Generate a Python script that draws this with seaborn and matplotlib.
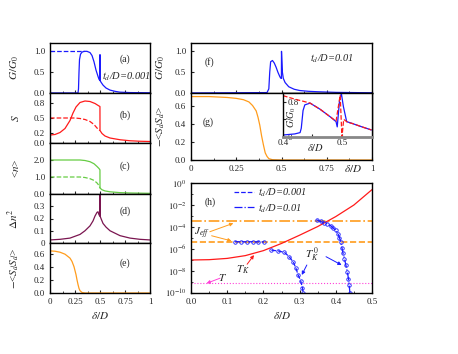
import matplotlib
matplotlib.use("Agg")
import matplotlib.pyplot as plt
import seaborn as sns
from matplotlib.lines import Line2D
from matplotlib.ticker import MultipleLocator, LogLocator, NullFormatter

# ---------------- data ----------------
# (a) conductance, t_d/D = 0.001
a_x = [0, 0.28, 0.285, 0.29, 0.295, 0.305, 0.32, 0.34, 0.37, 0.40, 0.42, 0.44, 0.46, 0.48,
       0.49, 0.4995, 0.5, 0.5005, 0.51, 0.53, 0.56, 0.6, 0.65, 0.7, 0.8, 1.0]
a_y = [0, 0, 0.1, 0.5, 0.8, 0.93, 0.98, 1.0, 1.0, 0.97, 0.9, 0.75, 0.55, 0.4,
       0.33, 0.3, 0.92, 0.3, 0.26, 0.19, 0.12, 0.07, 0.04, 0.02, 0.01, 0.005]
a_dash_x = [0, 0.34]
a_dash_y = [1.0, 1.0]

# (b) entropy S
b_x = [0, 0.05, 0.1, 0.15, 0.2, 0.23, 0.26, 0.3, 0.35, 0.4, 0.45, 0.49, 0.4995,
       0.5, 0.52, 0.55, 0.6, 0.7, 0.8, 0.9, 1.0]
b_y = [0.16, 0.17, 0.21, 0.29, 0.45, 0.6, 0.72, 0.81, 0.84, 0.83, 0.79, 0.74, 0.73,
       0.25, 0.19, 0.14, 0.1, 0.065, 0.045, 0.035, 0.03]
b_dash_x = [0, 0.25, 0.3, 0.35, 0.4, 0.44, 0.47, 0.49, 0.5]
b_dash_y = [0.5, 0.5, 0.49, 0.47, 0.43, 0.37, 0.3, 0.26, 0.25]

# (c) occupation <n>
c_x = [0, 0.3, 0.35, 0.4, 0.44, 0.47, 0.49, 0.4995, 0.5, 0.52, 0.55, 0.6, 0.7, 0.8, 1.0]
c_y = [2.0, 2.0, 1.97, 1.9, 1.78, 1.62, 1.5, 1.42, 0.35, 0.25, 0.18, 0.13, 0.08, 0.06, 0.04]
c_dash_x = [0, 0.3, 0.35, 0.4, 0.44, 0.47, 0.49, 0.5]
c_dash_y = [1.0, 1.0, 0.97, 0.9, 0.8, 0.65, 0.5, 0.35]

# (d) charge fluctuation
d_x = [0, 0.1, 0.2, 0.3, 0.35, 0.4, 0.43, 0.45, 0.47, 0.48, 0.49, 0.4995, 0.5, 0.5005,
       0.51, 0.53, 0.56, 0.6, 0.7, 0.8, 0.9, 1.0]
d_y = [0.025, 0.03, 0.04, 0.07, 0.1, 0.14, 0.18, 0.22, 0.25, 0.255, 0.23, 0.22, 0.5, 0.22,
       0.2, 0.16, 0.13, 0.1, 0.06, 0.04, 0.03, 0.025]

# (e) spin correlation, t_d/D = 0.001
e_x = [0, 0.05, 0.1, 0.15, 0.2, 0.22, 0.24, 0.26, 0.27, 0.28, 0.29, 0.3, 0.32, 0.35, 1.0]
e_y = [0.64, 0.635, 0.62, 0.59, 0.53, 0.48, 0.4, 0.28, 0.2, 0.13, 0.07, 0.035, 0.008, 0.0, 0.0]

# (f) conductance, t_d/D = 0.01
f_x = [0, 0.42, 0.43, 0.435, 0.44, 0.45, 0.46, 0.47, 0.48, 0.49, 0.495, 0.4995, 0.5,
       0.505, 0.51, 0.52, 0.54, 0.57, 0.6, 0.65, 0.7, 0.8, 0.9, 1.0]
f_y = [0, 0.01, 0.1, 0.5, 0.75, 0.78, 0.72, 0.62, 0.5, 0.4, 0.36, 0.35, 1.0,
       0.5, 0.35, 0.25, 0.15, 0.09, 0.06, 0.04, 0.03, 0.015, 0.01, 0.005]

# (g) spin correlation, t_d/D = 0.01
g_x = [0, 0.1, 0.2, 0.25, 0.29, 0.32, 0.34, 0.36, 0.37, 0.38, 0.39, 0.4, 0.41, 0.42,
       0.43, 0.45, 0.5, 1.0]
g_y = [0.71, 0.71, 0.7, 0.69, 0.675, 0.65, 0.61, 0.55, 0.48, 0.39, 0.27, 0.17, 0.08, 0.04,
       0.015, 0.003, 0.0, 0.0]

# (g) inset
in_x = [0.4, 0.42, 0.429, 0.431, 0.434, 0.437, 0.446, 0.463, 0.48, 0.49, 0.492, 0.496,
        0.499, 0.5025, 0.508, 0.517, 0.534, 0.55]
in_y = [0.045, 0.07, 0.1, 0.2, 0.6, 0.73, 0.77, 0.63, 0.46, 0.35, 0.23, 0.84,
        0.99, 0.69, 0.35, 0.31, 0.23, 0.16]
in_red_x = [0.4, 0.42, 0.435, 0.446, 0.463, 0.48, 0.49, 0.497, 0.5, 0.503, 0.51, 0.517,
            0.534, 0.55]
in_red_y = [0.94, 0.86, 0.81, 0.77, 0.63, 0.46, 0.36, 0.95, 0.0, 0.4, 0.33, 0.31,
            0.23, 0.16]

# (h) energy scales
tk_x = [0, 0.05, 0.1, 0.15, 0.2, 0.25, 0.3, 0.35, 0.4, 0.45, 0.5]
tk_y = [1.0e-7, 1.07e-7, 1.4e-7, 2.5e-7, 7.1e-7, 3.2e-6, 1.8e-5, 1.1e-4, 8.9e-4, 1.0e-2, 2.5e-1]

tk0_flat_x = [0.122, 0.138, 0.154, 0.170, 0.186, 0.202]
tk0_flat_y = [4.6e-6, 4.6e-6, 4.5e-6, 4.6e-6, 4.5e-6, 4.4e-6]
tk0_low_x = [0.222, 0.241, 0.258, 0.271, 0.283, 0.29, 0.296, 0.303, 0.308, 0.31]
tk0_low_y = [7.9e-7, 6.6e-7, 5.0e-7, 2.0e-7, 6.2e-8, 1.7e-8, 4.4e-9, 1.3e-9, 2.7e-10, 1.0e-10]

tk0_high_x = [0.347, 0.358, 0.367, 0.376, 0.386, 0.393, 0.40, 0.406, 0.41, 0.414, 0.417,
              0.42, 0.424, 0.428, 0.432, 0.435, 0.437, 0.439]
tk0_high_y = [4.4e-4, 3.2e-4, 2.5e-4, 2.0e-4, 1.3e-4, 7.9e-5, 5.0e-5, 2.5e-5, 1.1e-5, 4.0e-6,
              1.3e-6, 4.0e-7, 1.3e-7, 3.2e-8, 7.9e-9, 2.0e-9, 5.0e-10, 1.0e-10]

J_eff_high = 3.7e-4
J_eff_low = 4.5e-6
T_level = 8.0e-10

BLUE = "#1a1aff"
RED = "#ff1a1a"
GREEN = "#66cc44"
PURPLE = "#7a1550"
ORANGE = "#ff9c1c"
PINK = "#ff40d8"

# ---------------- style ----------------
sns.set_style("ticks")
plt.rcParams["font.family"] = ["Liberation Serif", "DejaVu Serif"]
plt.rcParams["mathtext.fontset"] = "stix"
plt.rcParams["xtick.direction"] = "in"
plt.rcParams["ytick.direction"] = "in"
plt.rcParams["axes.linewidth"] = 1.0
plt.rcParams["xtick.major.size"] = 2.5
plt.rcParams["ytick.major.size"] = 2.5
plt.rcParams["xtick.minor.size"] = 1.5
plt.rcParams["ytick.minor.size"] = 1.5
plt.rcParams["xtick.labelsize"] = 6.5
plt.rcParams["ytick.labelsize"] = 6.5
plt.rcParams["axes.edgecolor"] = "black"

W, H = 458, 354
fig = plt.figure(figsize=(W / 100, H / 100), dpi=100)


def px_axes(x0, y0, x1, y1):
    return fig.add_axes([x0 / W, 1 - y1 / H, (x1 - x0) / W, (y1 - y0) / H])


def draw(ax, x, y, color, ls="-", lw=0.9, **kw):
    sns.lineplot(x=x, y=y, ax=ax, color=color, linestyle=ls, linewidth=lw,
                 estimator=None, sort=False, legend=False, **kw)


LAB = 8
left_panels = [(43, 93), (93, 143), (143, 194), (194, 243), (243, 293)]
axs = [px_axes(50, y0, 150, y1) for (y0, y1) in left_panels]
ax_a, ax_b, ax_c, ax_d, ax_e = axs

draw(ax_a, a_dash_x, a_dash_y, BLUE, "--")
draw(ax_a, a_x, a_y, BLUE)
draw(ax_b, b_dash_x, b_dash_y, RED, "--")
draw(ax_b, b_x, b_y, RED)
draw(ax_c, c_dash_x, c_dash_y, GREEN, "--")
draw(ax_c, c_x, c_y, GREEN)
draw(ax_d, d_x, d_y, PURPLE)
draw(ax_e, e_x, e_y, ORANGE)

ylims = [(0, 1.2), (0, 1.0), (0, 3.0), (0, 0.4), (0, 0.76)]
yticks = [([0, 0.5, 1.0], ["0.0", "0.5", "1.0"]),
          ([0, 0.2, 0.5, 0.8], ["0.0", "0.2", "0.5", "0.8"]),
          ([0, 1, 2], ["0.0", "1.0", "2.0"]),
          ([0, 0.1, 0.2, 0.3], ["0", "0.1", "0.2", "0.3"]),
          ([0, 0.2, 0.4, 0.6], ["0.0", "0.2", "0.4", "0.6"])]
ylabels = ["$G/G_0$", "$S$", "<$n$>", r"$\Delta n^2$", r"$-$<$S_dS_d$>"]
tags = ["(a)", "(b)", "(c)", "(d)", "(e)"]
tag_y = [0.68, 0.56, 0.55, 0.64, 0.6]
for ax, yl, (tv, tl), lab, tag, ty in zip(axs, ylims, yticks, ylabels, tags, tag_y):
    ax.set_xlim(0, 1)
    ax.set_ylim(*yl)
    ax.set_yticks(tv)
    ax.set_yticklabels(tl)
    ax.xaxis.set_major_locator(MultipleLocator(0.25))
    ax.xaxis.set_minor_locator(MultipleLocator(0.125))
    ax.set_ylabel(lab, fontsize=LAB)
    ax.yaxis.set_label_coords(-0.29, 0.5)
    ax.set_xlabel("")
    ax.text(0.75, ty, tag, transform=ax.transAxes, fontsize=7, ha="center", va="center")
    if ax is not ax_e:
        ax.tick_params(axis="x", labelbottom=False)
ax_e.set_xticks([0, 0.25, 0.5, 0.75, 1.0])
ax_e.set_xticklabels(["0", "0.25", "0.5", "0.75", "1"])
ax_e.set_xlabel(r"$\delta/D$", fontsize=LAB, labelpad=3)
ax_a.text(0.52, 0.32, "$t_d$/D=0.001", transform=ax_a.transAxes, fontsize=7.5,
          style="italic", ha="left", va="center")

# ---------------- right column ----------------
ax_f = px_axes(191, 43, 372, 93)
ax_g = px_axes(191, 93, 372, 160)
draw(ax_f, f_x, f_y, BLUE)
draw(ax_g, g_x, g_y, ORANGE)
for ax in (ax_f, ax_g):
    ax.set_xlim(0, 1)
    ax.xaxis.set_major_locator(MultipleLocator(0.25))
    ax.xaxis.set_minor_locator(MultipleLocator(0.125))
    ax.yaxis.set_label_coords(-0.13, 0.5)
ax_f.set_ylim(0, 1.2)
ax_f.set_yticks([0, 0.5, 1.0])
ax_f.set_yticklabels(["0.0", "0.5", "1.0"])
ax_f.tick_params(axis="x", labelbottom=False)
ax_f.set_ylabel("$G/G_0$", fontsize=LAB)
ax_f.set_xlabel("")
ax_f.text(0.1, 0.62, "(f)", transform=ax_f.transAxes, fontsize=7, ha="center", va="center")
ax_f.text(0.66, 0.68, "$t_d$/D=0.01", transform=ax_f.transAxes, fontsize=7.5,
          style="italic", ha="left", va="center")

ax_g.set_ylim(0, 0.75)
ax_g.set_yticks([0, 0.2, 0.4, 0.6])
ax_g.set_yticklabels(["0.0", "0.2", "0.4", "0.6"])
ax_g.set_xticks([0, 0.25, 0.5, 0.75, 1.0])
ax_g.set_xticklabels(["0", "0.25", "0.5", "0.75", "1"])
ax_g.set_ylabel(r"$-$<$S_dS_d$>", fontsize=LAB)
ax_g.set_xlabel("")
ax_g.text(0.094, 0.57, "(g)", transform=ax_g.transAxes, fontsize=7, ha="center", va="center")
ax_g.text(0.895, -0.13, r"$\delta/D$", transform=ax_g.transAxes, fontsize=LAB,
          ha="center", va="center")

# inset
ax_in = px_axes(283, 93, 372, 137)
ax_in.set_facecolor("white")
draw(ax_in, in_x, in_y, BLUE)
draw(ax_in, in_red_x, in_red_y, RED, "--")
ax_in.set_xlim(0.4, 0.551)
ax_in.set_ylim(0, 1.0)
ax_in.set_xticks([0.4, 0.45, 0.5])
ax_in.set_xticklabels(["0.4", "", "0.5"])
ax_in.set_yticks([0, 0.4, 0.8])
ax_in.set_yticklabels(["0", "", "0.8"])
ax_in.tick_params(axis="y", pad=-3, labelsize=6.5)
for t in ax_in.get_yticklabels():
    t.set_horizontalalignment("left")
ax_in.tick_params(axis="x", pad=1.5, labelsize=6.5)
ax_in.spines["bottom"].set_color("#888888")
ax_in.spines["bottom"].set_linewidth(2.0)
ax_in.set_xlabel("")
ax_in.set_ylabel("")
ax_in.text(0.1, 0.45, "$G/G_0$", transform=ax_in.transAxes, fontsize=7, rotation=90,
           ha="center", va="center")
ax_in.text(0.36, -0.25, r"$\delta/D$", transform=ax_in.transAxes, fontsize=7.5,
           ha="center", va="center")

# ---------------- (h) ----------------
ax_h = px_axes(191, 183, 372, 293)
ax_h.set_yscale("log")
ax_h.axhline(J_eff_high, color=ORANGE, linestyle="-.", linewidth=1.2)
ax_h.axhline(J_eff_low, color=ORANGE, linestyle="--", linewidth=1.2)
ax_h.axhline(T_level, color=PINK, linestyle=":", linewidth=0.8)
draw(ax_h, tk_x, tk_y, RED)
circ = dict(marker="o", markersize=2.5, markerfacecolor="none", markeredgecolor=BLUE,
            markeredgewidth=0.6)
draw(ax_h, tk0_flat_x, tk0_flat_y, BLUE, "--", **circ)
draw(ax_h, tk0_low_x, tk0_low_y, BLUE, "--", **circ)
draw(ax_h, tk0_high_x, tk0_high_y, BLUE, "-.", **circ)
ax_h.set_xlim(0, 0.5)
ax_h.set_ylim(1e-10, 1)
ax_h.set_xticks([0, 0.1, 0.2, 0.3, 0.4, 0.5])
ax_h.set_xticklabels(["0.0", "0.1", "0.2", "0.3", "0.4", "0.5"])
ax_h.xaxis.set_minor_locator(MultipleLocator(0.05))
ax_h.set_yticks([1, 1e-2, 1e-4, 1e-6, 1e-8, 1e-10])
ax_h.set_yticklabels(["$10^{0}$", "$10^{-2}$", "$10^{-4}$", "$10^{-6}$", "$10^{-8}$",
                      "$10^{-10}$"])
ax_h.yaxis.set_minor_locator(LogLocator(base=10, subs=(1.0,), numticks=20))
ax_h.yaxis.set_minor_formatter(NullFormatter())
ax_h.set_xlabel(r"$\delta/D$", fontsize=LAB, labelpad=3)
ax_h.set_ylabel("")
ax_h.text(0.105, 0.83, "(h)", transform=ax_h.transAxes, fontsize=7, ha="center", va="center")

handles = [Line2D([], [], color=BLUE, linestyle="--", linewidth=0.9),
           Line2D([], [], color=BLUE, linestyle="-.", linewidth=0.9)]
ax_h.legend(handles, ["$t_d$/D=0.001", "$t_d$/D=0.01"], loc="upper left",
            bbox_to_anchor=(0.2, 1.03), frameon=False, prop={"size": 7.5, "style": "italic"},
            handlelength=1.9, handletextpad=0.4, labelspacing=0.25, borderpad=0.2)

arrow = lambda c: dict(arrowstyle="-|>", color=c, lw=0.7, mutation_scale=5,
                       shrinkA=0, shrinkB=0)
ax_h.text(0.03, 2.8e-5, "$J_{eff}$", fontsize=8, ha="center", va="center")
ax_h.annotate("", xy=(0.117, 2.2e-4), xytext=(0.052, 3.7e-5), arrowprops=arrow(ORANGE))
ax_h.annotate("", xy=(0.112, 5.4e-6), xytext=(0.057, 1.6e-5), arrowprops=arrow(ORANGE))
ax_h.text(0.144, 1.3e-8, "$T_K$", fontsize=8, ha="center", va="center")
ax_h.annotate("", xy=(0.174, 2.8e-7), xytext=(0.155, 4.1e-8), arrowprops=arrow(RED))
ax_h.text(0.086, 2.8e-9, "$T$", fontsize=8, ha="center", va="center")
ax_h.annotate("", xy=(0.043, 7.6e-10), xytext=(0.08, 2.2e-9), arrowprops=arrow(PINK))
ax_h.text(0.334, 2.8e-7, "$T_K^{\\,0}$", fontsize=8, ha="center", va="center")
ax_h.annotate("", xy=(0.306, 4.4e-9), xytext=(0.32, 3.5e-8), arrowprops=arrow(BLUE))
ax_h.annotate("", xy=(0.416, 3.5e-8), xytext=(0.373, 2.0e-7), arrowprops=arrow(BLUE))

plt.savefig("out.png", dpi=100)
